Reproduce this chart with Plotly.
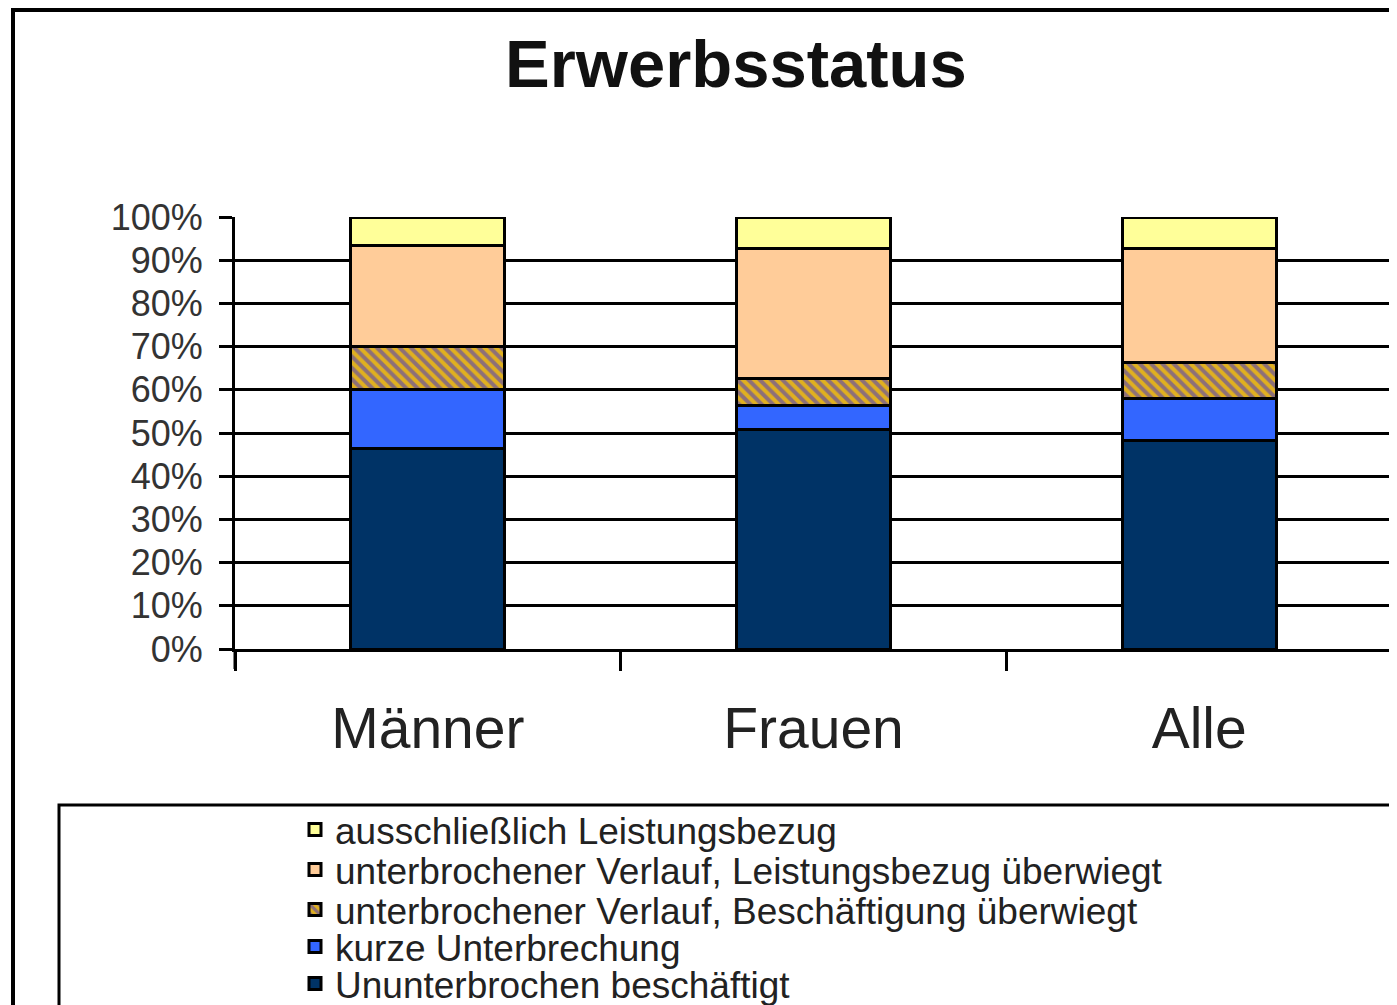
import plotly.graph_objects as go

categories = ["Männer", "Frauen", "Alle"]
ununterbrochen = [46.4, 50.9, 48.3]
kurze_unterbrechung = [13.6, 5.4, 9.8]
beschaeftigung_ueberwiegt = [10.0, 6.3, 8.3]
leistungsbezug_ueberwiegt = [23.5, 30.0, 26.2]
ausschliesslich_leistung = [6.5, 7.4, 7.4]
y_ticks = [0, 10, 20, 30, 40, 50, 60, 70, 80, 90, 100]
y_ticklabels = [f"{v}%" for v in y_ticks]

series = [
    ("Ununterbrochen beschäftigt", ununterbrochen, "#003366", None),
    ("kurze Unterbrechung", kurze_unterbrechung, "#3366FF", None),
    ("unterbrochener Verlauf, Beschäftigung überwiegt", beschaeftigung_ueberwiegt, "#D8A820",
     dict(shape="\\", fgcolor="#3A30D0", bgcolor="#E0B020", size=8, solidity=0.5)),
    ("unterbrochener Verlauf, Leistungsbezug überwiegt", leistungsbezug_ueberwiegt, "#FFCC99", None),
    ("ausschließlich Leistungsbezug", ausschliesslich_leistung, "#FFFF99", None),
]
# legend row centres (screen pixels from top), bottom series first
legend_rows = [984, 947, 910, 870, 830]

W, H = 1397, 1005
OFF = 8  # page body margin: figure is drawn 8px right/down of the window corner

def sx(x):  # screen x -> figure x
    return x - OFF

def sy(y):
    return y - OFF

L, R, T, B = sx(235), sx(1392), sy(217), sy(649)
pw, ph = R - L, B - T

def px(x):
    return (sx(x) - L) / pw

def py(y):
    return (B - sy(y)) / ph

FONT = "Liberation Sans, Arial, sans-serif"

fig = go.Figure()
legend_layouts = {}
for i, (name, vals, color, pattern) in enumerate(series):
    marker = dict(color=color, line=dict(color="black", width=3))
    if pattern:
        marker["pattern"] = pattern
    lname = "legend" if i == 0 else f"legend{i + 1}"
    fig.add_trace(go.Bar(x=categories, y=vals, name=name, marker=marker, legend=lname))
    legend_layouts[lname] = dict(
        xref="container", yref="container",
        x=sx(295) / W, y=1 - sy(legend_rows[i]) / H,
        xanchor="left", yanchor="middle",
        font=dict(size=37, color="#222", family=FONT),
        bgcolor="rgba(0,0,0,0)", borderwidth=0,
    )

fig.update_layout(
    width=W, height=H,
    margin=dict(l=L, r=W - R, t=T, b=H - B, autoexpand=False),
    barmode="stack",
    bargap=0.6,
    paper_bgcolor="white",
    plot_bgcolor="white",
    font=dict(family=FONT, color="#222"),
    showlegend=True,
    xaxis=dict(
        showline=True, linecolor="black", linewidth=3,
        ticks="outside", ticklen=19, tickwidth=3, tickcolor="black",
        tickson="boundaries",
        tickfont=dict(size=57, color="#222", family=FONT),
        ticklabelstandoff=28,
        showgrid=False,
    ),
    yaxis=dict(
        range=[0, 100],
        tickvals=y_ticks, ticktext=y_ticklabels,
        showline=True, linecolor="black", linewidth=3, mirror=True,
        ticks="outside", ticklen=13, tickwidth=3, tickcolor="black",
        showgrid=True, gridcolor="black", gridwidth=3,
        tickfont=dict(size=36, color="#333", family=FONT),
        ticklabelstandoff=9,
        zeroline=False,
    ),
    shapes=[
        dict(type="rect", xref="paper", yref="paper",
             x0=px(13), x1=px(1420), y0=py(1030), y1=py(10),
             line=dict(color="black", width=4), fillcolor="rgba(0,0,0,0)", layer="below"),
        dict(type="rect", xref="paper", yref="paper",
             x0=px(59), x1=px(1420), y0=py(1030), y1=py(805),
             line=dict(color="black", width=3), fillcolor="rgba(0,0,0,0)", layer="below"),
        # y-axis line extends below the x-axis like the boundary ticks
        dict(type="line", xref="paper", yref="paper",
             x0=0, x1=0, y0=py(669), y1=0,
             line=dict(color="black", width=3)),
    ],
    annotations=[
        dict(text="<b>Erwerbsstatus</b>", xref="paper", yref="paper",
             x=px(736), y=py(63), xanchor="center", yanchor="middle",
             showarrow=False, font=dict(size=67, color="#111", family=FONT)),
    ],
    **legend_layouts,
)

fig.write_html("out.html")
